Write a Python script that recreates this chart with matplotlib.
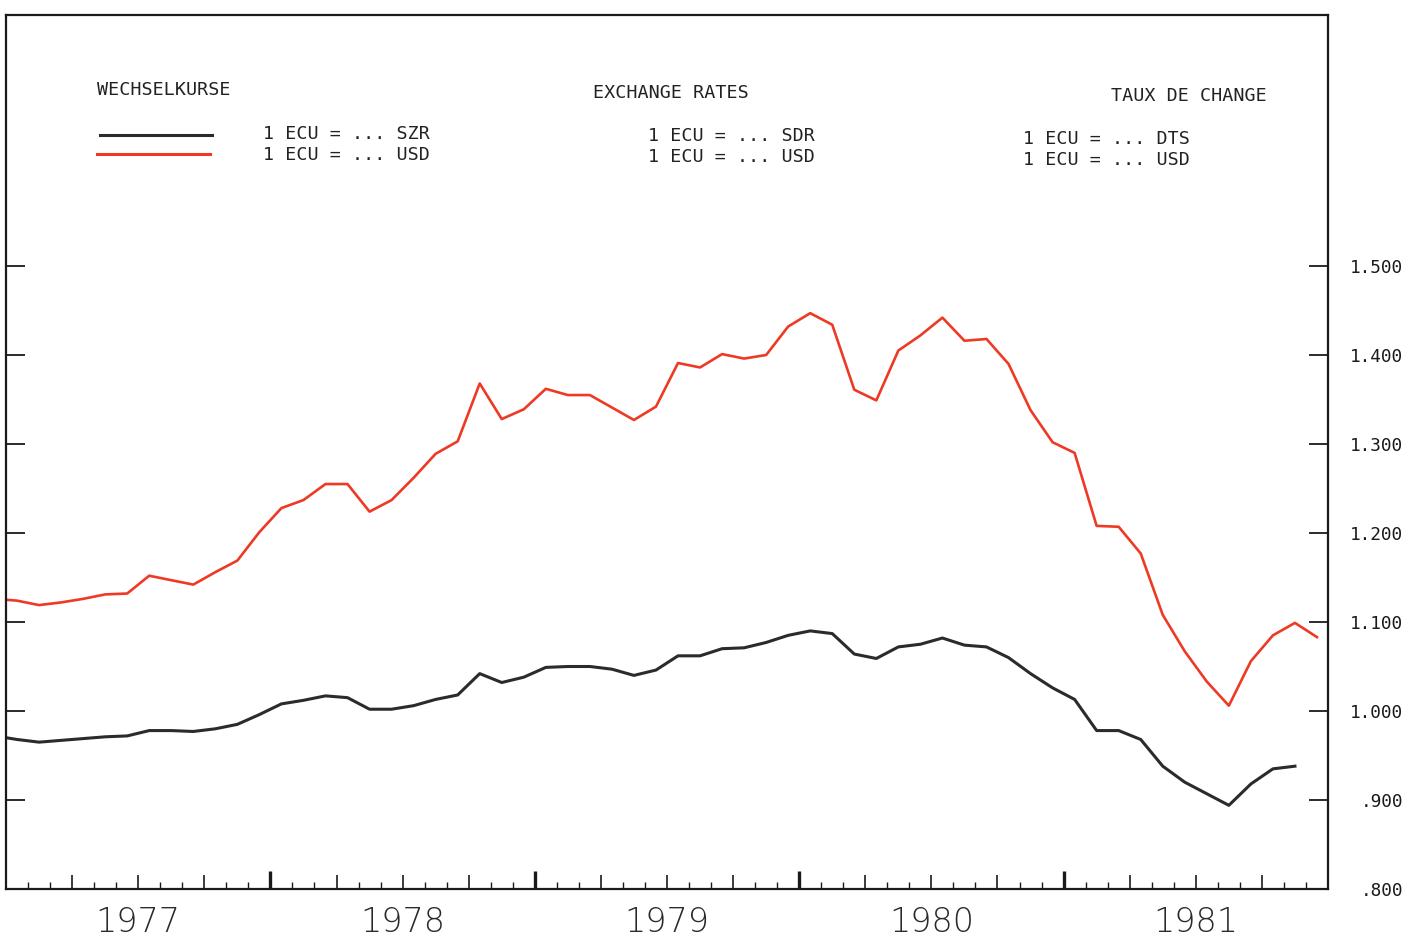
import numpy as np
import matplotlib.pyplot as plt
from matplotlib.lines import Line2D
from matplotlib.ticker import FuncFormatter

# monthly values, one point per month; index 0 = Dec 1976 (clipped by the frame)
ecu_usd = [1.126,
           1.124, 1.119, 1.122, 1.126, 1.131, 1.132, 1.152, 1.147, 1.142, 1.156, 1.169, 1.201,
           1.228, 1.237, 1.255, 1.255, 1.224, 1.237, 1.262, 1.289, 1.303, 1.368, 1.328, 1.339,
           1.362, 1.355, 1.355, 1.341, 1.327, 1.342, 1.391, 1.386, 1.401, 1.396, 1.400, 1.432,
           1.447, 1.434, 1.361, 1.349, 1.405, 1.422, 1.442, 1.416, 1.418, 1.390, 1.338, 1.302,
           1.290, 1.208, 1.207, 1.177, 1.108, 1.067, 1.033, 1.006, 1.056, 1.085, 1.099, 1.083]
ecu_sdr = [0.972,
           0.968, 0.965, 0.967, 0.969, 0.971, 0.972, 0.978, 0.978, 0.977, 0.980, 0.985, 0.996,
           1.008, 1.012, 1.017, 1.015, 1.002, 1.002, 1.006, 1.013, 1.018, 1.042, 1.032, 1.038,
           1.049, 1.050, 1.050, 1.047, 1.040, 1.046, 1.062, 1.062, 1.070, 1.071, 1.077, 1.085,
           1.090, 1.087, 1.064, 1.059, 1.072, 1.075, 1.082, 1.074, 1.072, 1.060, 1.042, 1.026,
           1.013, 0.978, 0.978, 0.968, 0.938, 0.920, 0.907, 0.894, 0.918, 0.935, 0.938]
years = ["1977", "1978", "1979", "1980", "1981"]
y_ticks = [0.8, 0.9, 1.0, 1.1, 1.2, 1.3, 1.4, 1.5]

W, H = 1423, 940
fig = plt.figure(figsize=(W / 100, H / 100), dpi=100)
ax = fig.add_axes([6 / W, (H - 889) / H, (1328 - 6) / W, (889 - 15) / H])

# months counted from Jan 1977, points in the middle of each month
x_usd = np.arange(len(ecu_usd)) - 1 + 0.5
x_sdr = np.arange(len(ecu_sdr)) - 1 + 0.5
ax.plot(x_sdr, ecu_sdr, color="#2b2b2b", lw=2.2, solid_joinstyle="round")
ax.plot(x_usd, ecu_usd, color="#ee3a24", lw=1.9, solid_joinstyle="round")

n_months = 12 * len(years)
ax.set_xlim(0, n_months)
ax.set_ylim(0.8, 0.8 + (889 - 15) / 890)

for s in ax.spines.values():
    s.set_linewidth(1.6)
    s.set_color("#1a1a1a")

# y axis: ticks inside on both sides, labels outside on the right
ax.set_yticks(y_ticks)
ax.yaxis.set_major_formatter(FuncFormatter(lambda v, p: f"{v:.3f}".lstrip("0")))
ax.tick_params(axis="y", which="major", direction="in", length=14, width=1.3,
               left=True, right=True, labelleft=False, labelright=True,
               pad=54, labelsize=12.8, colors="#1a1a1a")
for lab in ax.get_yticklabels():
    lab.set_ha("right")
    lab.set_family("DejaVu Sans Mono")

# x axis: monthly / quarterly ticks, heavy year ticks, year names under mid-year
ax.set_xticks(np.arange(3, n_months, 3))
ax.set_xticks(np.arange(1, n_months), minor=True)
ax.tick_params(axis="x", which="major", direction="in", length=10, width=1.2,
               labelbottom=False, color="#1a1a1a")
ax.tick_params(axis="x", which="minor", direction="in", length=5, width=1.0,
               color="#1a1a1a")

sec = ax.secondary_xaxis("bottom")
sec.spines["bottom"].set_visible(False)
sec.set_xticks(np.arange(12, n_months, 12))
sec.set_xticks(np.arange(6, n_months, 12), labels=years, minor=True)
sec.tick_params(which="major", direction="in", length=13, width=2.4,
                labelbottom=False, color="#1a1a1a")
sec.tick_params(which="minor", length=0, pad=12, labelsize=24, labelcolor="#2a2a2a")
for lab in sec.get_xticklabels(minor=True):
    lab.set_fontweight("light")


def px(x, y):
    return x / W, 1 - y / H


mono = dict(family="DejaVu Sans Mono", fontsize=13.2, color="#222222", va="center")
fig.text(*px(97, 90), "WECHSELKURSE", **mono)
fig.text(*px(263, 134), "1 ECU = ... SZR", **mono)
fig.text(*px(263, 155), "1 ECU = ... USD", **mono)
fig.text(*px(593, 93), "EXCHANGE RATES", **mono)
fig.text(*px(648, 136), "1 ECU = ... SDR", **mono)
fig.text(*px(648, 157), "1 ECU = ... USD", **mono)
fig.text(*px(1111, 96), "TAUX DE CHANGE", **mono)
fig.text(*px(1023, 139), "1 ECU = ... DTS", **mono)
fig.text(*px(1023, 160), "1 ECU = ... USD", **mono)

fig.add_artist(Line2D([100 / W, 212 / W], [1 - 135 / H] * 2, color="#2b2b2b", lw=2.2))
fig.add_artist(Line2D([97 / W, 210 / W], [1 - 154 / H] * 2, color="#ee3a24", lw=2.2))

fig.savefig("out.png", dpi=100)
